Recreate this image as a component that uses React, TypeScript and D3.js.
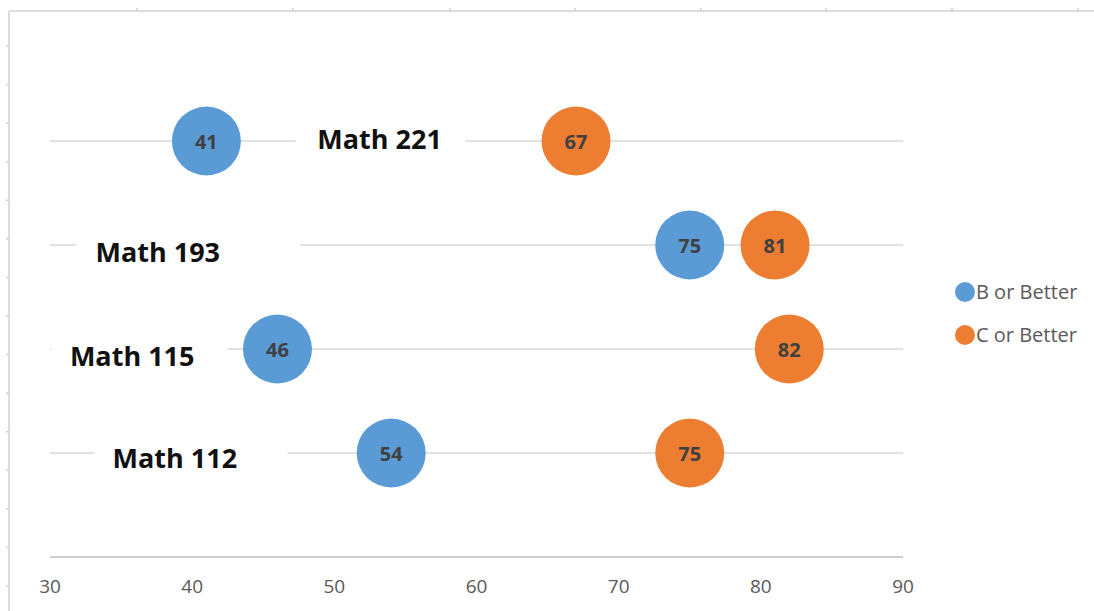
import React from 'react';
import * as d3 from 'd3';

// chart values
const courses = ['Math 112', 'Math 115', 'Math 193', 'Math 221'];
const rows = [1, 2, 3, 4];
const bOrBetter = [54, 46, 75, 41];
const cOrBetter = [75, 82, 81, 67];
const seriesNames = ['B or Better', 'C or Better'];
const xTicks = [30, 40, 50, 60, 70, 80, 90];

// course labels sit on a hidden series (data units)
const labelX = [34.4, 31.4, 33.2, 48.8];
const labelY = [0.95, 1.93, 2.93, 4.01];
const labelBoxStart = [33.1, 30.1, 31.8, 47.3];
const labelBoxEnd = [46.7, 42.5, 47.6, 59.2];

// sheet cell borders peeking around the chart
const sheetCols = [137, 293, 450, 575, 701, 826, 952, 1078];
const sheetRows = d3.range(15).map((i) => 46 + i * 38.57);

const W = 1094;
const H = 611;
const colors = ['#5B9BD5', '#ED7D31'];
const font = '"Open Sans", Lato, sans-serif';

export default function App() {
  const x = d3.scaleLinear().domain([30, 90]).range([50, 903]);
  const y = d3.scaleLinear().domain([0, 5]).range([557, 37]);
  const r = 34.5;

  const series = [bOrBetter, cOrBetter];

  return (
    <svg
      width={W}
      height={H}
      style={{ position: 'absolute', left: 0, top: 0, background: '#fff' }}
      fontFamily={font}
    >
      {/* spreadsheet frame */}
      <line x1={9} y1={11} x2={W} y2={11} stroke="#dcdcdc" strokeWidth={2} />
      <line x1={9} y1={11} x2={9} y2={H} stroke="#dcdcdc" strokeWidth={2} />
      {sheetCols.map((c) => (
        <line key={c} x1={c} y1={8} x2={c} y2={11} stroke="#cfcfcf" strokeWidth={1.5} />
      ))}
      {sheetRows.map((rr) => (
        <line key={rr} x1={6} y1={rr} x2={9} y2={rr} stroke="#cfcfcf" strokeWidth={1.5} />
      ))}

      {/* row gridlines */}
      {rows.map((v) => (
        <line key={v} x1={x(30)} x2={x(90)} y1={y(v)} y2={y(v)} stroke="#d9d9d9" strokeWidth={1.5} />
      ))}

      {/* x axis */}
      <line x1={x(30)} x2={x(90)} y1={y(0)} y2={y(0)} stroke="#bfbfbf" strokeWidth={1.5} />
      {xTicks.map((t) => (
        <text key={t} x={x(t)} y={y(0) + 36} textAnchor="middle" fontSize={19} fill="#595959">
          {t}
        </text>
      ))}

      {/* course labels with white boxes */}
      {courses.map((c, i) => (
        <g key={c}>
          <rect
            x={x(labelBoxStart[i])}
            width={x(labelBoxEnd[i]) - x(labelBoxStart[i])}
            y={y(rows[i]) - 14}
            height={28}
            fill="#fff"
          />
          <text x={x(labelX[i])} y={y(labelY[i]) + 9.5} fontSize={27} fontWeight="bold" fill="#111">
            {c}
          </text>
        </g>
      ))}

      {/* bubbles */}
      {series.map((vals, s) =>
        vals.map((v, i) => (
          <g key={`${s}-${i}`}>
            <circle cx={x(v)} cy={y(rows[i])} r={r} fill={colors[s]} />
            <text
              x={x(v)}
              y={y(rows[i]) + 7.5}
              textAnchor="middle"
              fontSize={20}
              fontWeight="bold"
              fill="#404040"
            >
              {v}
            </text>
          </g>
        ))
      )}

      {/* legend */}
      {seriesNames.map((n, s) => (
        <g key={n} transform={`translate(965, ${292 + s * 43})`}>
          <circle cx={0} cy={0} r={10} fill={colors[s]} />
          <text x={11} y={7} fontSize={20} fill="#595959">
            {n}
          </text>
        </g>
      ))}
    </svg>
  );
}
